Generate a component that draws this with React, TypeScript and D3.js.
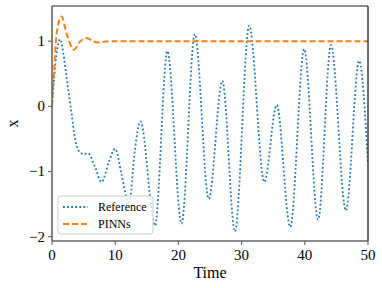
import * as d3 from "d3";

const MARGIN = { top: 6, right: 14, bottom: 47, left: 52 };
const WIDTH = 382;
const HEIGHT = 288;

// Reference solution (extremes and a few in-between points)
const refTime = [
  0, 0.5, 1.3, 1.8, 2.3, 3.1, 3.6, 4.2, 5.0, 5.7, 6.8, 7.85, 9.0, 10.0, 11.0,
  12.2, 13.1, 14.0, 16.3, 18.25, 20.5, 22.6, 24.8, 26.95, 28.95, 31.2, 33.6,
  35.55, 37.7, 39.9, 42.1, 44.15, 46.5, 48.6, 50,
];
const refX = [
  0, 0.62, 1.03, 0.81, 0.45, -0.11, -0.47, -0.68, -0.73, -0.72, -0.93, -1.16,
  -0.85, -0.65, -1.04, -1.5, -0.68, -0.23, -1.83, 0.85, -1.8, 1.11, -1.42, 0.39,
  -1.92, 1.24, -1.16, 0.02, -1.85, 0.88, -1.74, 0.94, -1.6, 0.7, -0.88,
];

// PINNs prediction
const pinnTime = [0, 0.37, 0.74, 1.5, 2.3, 3.1, 3.5, 4.4, 5.5, 6.5, 7.3, 9, 50];
const pinnX = [0, 0.62, 1.12, 1.38, 1.12, 0.91, 0.87, 0.99, 1.05, 1.0, 0.98, 1.0, 1.0];

const xTicks = [0, 10, 20, 30, 40, 50];
const yTicks = [-2, -1, 0, 1];

const FONT = "'Liberation Serif', 'DejaVu Serif', serif";

const fmt = (v: number) => (v < 0 ? "\u2212" + Math.abs(v) : String(v));

export default function App() {
  const boundsWidth = WIDTH - MARGIN.left - MARGIN.right;
  const boundsHeight = HEIGHT - MARGIN.top - MARGIN.bottom;

  const xScale = d3.scaleLinear().domain([0, 50]).range([0, boundsWidth]);
  const yScale = d3.scaleLinear().domain([-2.066, 1.54]).range([boundsHeight, 0]);

  const line = d3
    .line<[number, number]>()
    .x((d) => xScale(d[0]))
    .y((d) => yScale(d[1]))
    .curve(d3.curveMonotoneX);

  const refPath = line(refTime.map((t, i) => [t, refX[i]] as [number, number])) ?? "";
  const pinnPath = line(pinnTime.map((t, i) => [t, pinnX[i]] as [number, number])) ?? "";

  const xLabels = xTicks.map((t) => (
    <g key={t} transform={`translate(${xScale(t)},${boundsHeight})`}>
      <line y2={4} stroke="#555" strokeWidth={1} />
      <text y={19} textAnchor="middle" fontSize={15}>
        {fmt(t)}
      </text>
    </g>
  ));

  const yLabels = yTicks.map((v) => (
    <g key={v} transform={`translate(0,${yScale(v)})`}>
      <line x2={-4} stroke="#555" strokeWidth={1} />
      <text x={-7} dy="0.33em" textAnchor="end" fontSize={15}>
        {fmt(v)}
      </text>
    </g>
  ));

  return (
    <svg
      width={WIDTH}
      height={HEIGHT}
      style={{ position: "absolute", left: 0, top: 0, background: "white" }}
      fontFamily={FONT}
    >
      <defs>
        <clipPath id="plot-area">
          <rect width={boundsWidth} height={boundsHeight} />
        </clipPath>
      </defs>
      <g transform={`translate(${MARGIN.left},${MARGIN.top})`}>
        <g clipPath="url(#plot-area)">
          <path
            d={refPath}
            fill="none"
            stroke="#1f77b4"
            strokeWidth={1.8}
            strokeDasharray="1.8,2.3"
          />
          <path
            d={pinnPath}
            fill="none"
            stroke="#ff7f0e"
            strokeWidth={2}
            strokeDasharray="6,3"
          />
        </g>

        {/* frame */}
        <line x1={0} x2={boundsWidth} y1={0} y2={0} stroke="#222" strokeWidth={1} />
        <line x1={boundsWidth} x2={boundsWidth} y1={0} y2={boundsHeight} stroke="#333" strokeWidth={1.4} />
        <line x1={0} x2={0} y1={0} y2={boundsHeight} stroke="#666" strokeWidth={1.6} />
        <line x1={0} x2={boundsWidth} y1={boundsHeight} y2={boundsHeight} stroke="#666" strokeWidth={1.6} />

        {xLabels}
        {yLabels}

        {/* legend */}
        <g transform={`translate(6,${boundsHeight - 45})`}>
          <rect
            width={95}
            height={38}
            rx={3}
            fill="white"
            fillOpacity={0.8}
            stroke="#ccc"
            strokeWidth={1}
          />
          <line
            x1={5}
            x2={30}
            y1={11}
            y2={11}
            stroke="#1f77b4"
            strokeWidth={1.8}
            strokeDasharray="1.8,2.3"
          />
          <text x={40} y={15} fontSize={12}>
            Reference
          </text>
          <line
            x1={5}
            x2={30}
            y1={28}
            y2={28}
            stroke="#ff7f0e"
            strokeWidth={2}
            strokeDasharray="6,3"
          />
          <text x={40} y={32} fontSize={12}>
            PINNs
          </text>
        </g>
      </g>

      <text x={MARGIN.left + boundsWidth / 2} y={278} textAnchor="middle" fontSize={16}>
        Time
      </text>
      <text
        transform={`translate(18,${MARGIN.top + boundsHeight / 2}) rotate(-90)`}
        textAnchor="middle"
        fontSize={16}
      >
        x
      </text>
    </svg>
  );
}
